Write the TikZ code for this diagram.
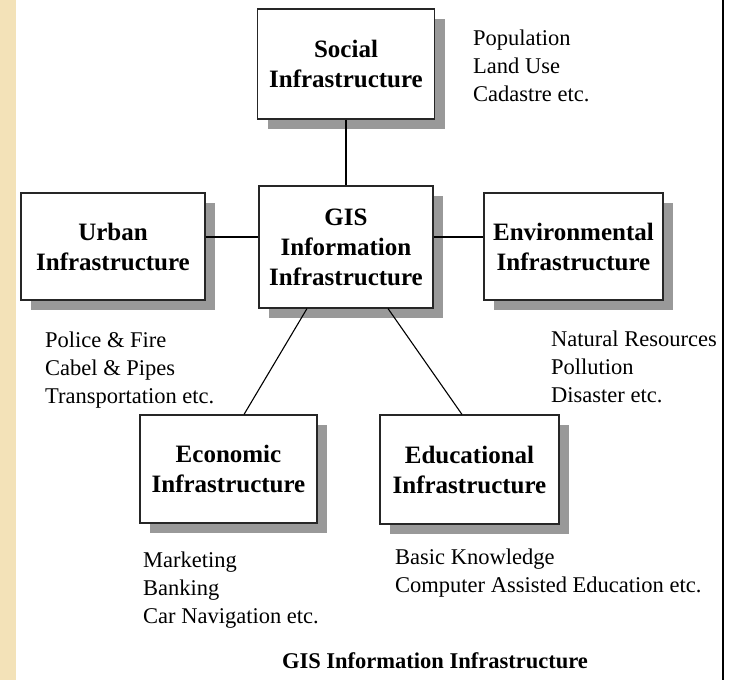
\documentclass[tikz,border=0pt]{standalone}
\usepackage{fontspec}
\setmainfont{Liberation Serif}
\usetikzlibrary{shadows}
\definecolor{strip}{RGB}{243,226,184}
\definecolor{shade}{RGB}{153,153,153}
\begin{document}
\begin{tikzpicture}[x=1pt,y=-1pt,
  infbox/.style={draw=black!85, line width=1.1pt, fill=white, inner sep=0pt,
    align=center, font=\fontsize{25}{30}\selectfont\bfseries,
    drop shadow={shadow xshift=10pt, shadow yshift=-10pt, fill=shade, opacity=1}},
  listtext/.style={anchor=base west, inner sep=0pt, align=left,
    font=\fontsize{22.5}{27.8}\selectfont},
  link/.style={draw=black, line width=1.1pt}]
\useasboundingbox (0,0) rectangle (731,680);
\fill[strip] (0,0) rectangle (15.5,680);
\draw[line width=1.5pt] (723,0) -- (723,680);

\node[infbox, minimum width=177pt, minimum height=110pt] (social) at (346,64) {Social\\Infrastructure};
\node[infbox, minimum width=174pt, minimum height=122pt] (gis) at (346,247) {GIS\\Information\\Infrastructure};
\node[infbox, minimum width=184pt, minimum height=107pt] (urban) at (113,246.5) {Urban\\Infrastructure};
\node[infbox, minimum width=179pt, minimum height=107pt] (env) at (573.5,246.5) {Environmental\\Infrastructure};
\node[infbox, minimum width=177pt, minimum height=108pt] (econ) at (228.5,469) {Economic\\Infrastructure};
\node[infbox, minimum width=179pt, minimum height=109pt] (edu) at (469.5,469.5) {Educational\\Infrastructure};

\draw[link] (social.south) -- (gis.north);
\draw[link] ([yshift=9.5pt]urban.east) -- ([yshift=10pt]gis.west);
\draw[link] ([yshift=10pt]gis.east) -- ([yshift=9.5pt]env.west);
\draw[link] ([xshift=-39pt]gis.south) -- ([xshift=15.5pt]econ.north);
\draw[link] ([xshift=42pt]gis.south) -- ([xshift=-7.5pt]edu.north);

\node[listtext] (sociallist) at (473,101) {Population\\Land Use\\Cadastre etc.};
\node[listtext] (envlist) at (551,402) {Natural Resources\\Pollution\\Disaster etc.};
\node[listtext] (urbanlist) at (45,403) {Police \& Fire\\Cabel \& Pipes\\Transportation etc.};
\node[listtext] (econlist) at (143,623) {Marketing\\Banking\\Car Navigation etc.};
\node[listtext] (edulist) at (395,592) {Basic Knowledge\\Computer Assisted Education etc.};

\node[font=\fontsize{22.5}{27}\selectfont\bfseries, anchor=base, inner sep=0pt] (caption) at (435,668) {GIS Information Infrastructure};
\end{tikzpicture}
\end{document}
